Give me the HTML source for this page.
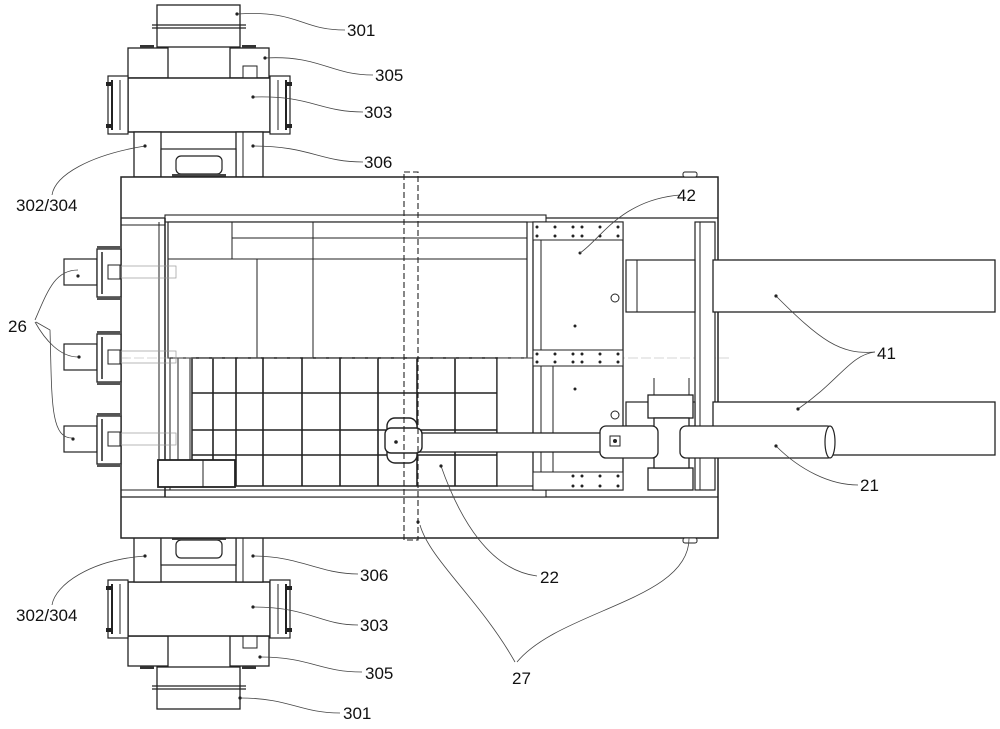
<!DOCTYPE html>
<html><head><meta charset="utf-8"><style>
html,body{margin:0;padding:0;background:#fff;}
svg{display:block;}
text{font-family:"Liberation Sans",sans-serif;font-size:17px;fill:#111;}
</style></head><body>
<svg width="1000" height="729" viewBox="0 0 1000 729" xmlns="http://www.w3.org/2000/svg">
<defs>
<g id="motor">
  <!-- 301 -->
  <rect x="157" y="5" width="83" height="42" fill="#fff" stroke="#222" stroke-width="1.3"/>
  <line x1="152" y1="25" x2="246" y2="25" stroke="#222" stroke-width="1.2"/>
  <line x1="152" y1="28" x2="246" y2="28" stroke="#222" stroke-width="1.2"/>
  <!-- 305 -->
  <rect x="128" y="48" width="40" height="30" fill="#fff" stroke="#222" stroke-width="1.3"/>
  <rect x="230" y="48" width="39" height="30" fill="#fff" stroke="#222" stroke-width="1.3"/>
  <rect x="243" y="66" width="14" height="12" fill="#fff" stroke="#222" stroke-width="1"/>
  <rect x="140" y="45" width="14" height="3" fill="#333"/>
  <rect x="242" y="45" width="14" height="3" fill="#333"/>
  <!-- 303 -->
  <rect x="128" y="78" width="142" height="54" fill="#fff" stroke="#222" stroke-width="1.5"/>
  <rect x="108" y="76" width="20" height="58" fill="#fff" stroke="#222" stroke-width="1.2"/>
  <rect x="270" y="76" width="20" height="58" fill="#fff" stroke="#222" stroke-width="1.2"/>
  <line x1="112" y1="80" x2="112" y2="130" stroke="#222" stroke-width="2"/>
  <line x1="286" y1="80" x2="286" y2="130" stroke="#222" stroke-width="2"/>
  <line x1="120" y1="80" x2="120" y2="130" stroke="#222"/>
  <line x1="278" y1="80" x2="278" y2="130" stroke="#222"/>
  <rect x="106" y="82" width="6" height="4" fill="#222"/><rect x="106" y="124" width="6" height="4" fill="#222"/>
  <rect x="286" y="82" width="6" height="4" fill="#222"/><rect x="286" y="124" width="6" height="4" fill="#222"/>
  <!-- posts -->
  <rect x="134" y="132" width="27" height="45" fill="#fff" stroke="#222" stroke-width="1.3"/>
  <rect x="236" y="132" width="27" height="45" fill="#fff" stroke="#222" stroke-width="1.3"/>
  <line x1="243" y1="132" x2="243" y2="177" stroke="#222"/>
  <rect x="161" y="149" width="75" height="28" fill="#fff" stroke="#222" stroke-width="1.2"/>
  <rect x="176" y="156" width="46" height="18" rx="5" fill="#fff" stroke="#222" stroke-width="1.2"/>
  <rect x="172" y="174" width="54" height="3" fill="#444"/>
</g>
<g id="bolt26">
  <rect x="64" y="-13" width="33" height="26" fill="#fff" stroke="#222" stroke-width="1.2"/>
  <rect x="97" y="-23" width="24" height="48" fill="#fff" stroke="#222" stroke-width="1.3"/>
  <rect x="97" y="-26" width="24" height="3" fill="#555"/>
  <rect x="97" y="25" width="24" height="3" fill="#555"/>
  <line x1="102" y1="-20" x2="102" y2="22" stroke="#222" stroke-width="1.5"/>
  <rect x="108" y="-7" width="12" height="14" fill="#fff" stroke="#222"/>
  <rect x="121" y="-6" width="55" height="12" fill="none" stroke="#999" stroke-width="0.7"/>
</g>
</defs>

<use href="#motor"/>
<use href="#motor" transform="translate(0,714) scale(1,-1)"/>

<!-- main frame -->
<rect x="121" y="177" width="597" height="361" fill="#fff" stroke="#222" stroke-width="1.5"/>
<line x1="121" y1="218" x2="718" y2="218" stroke="#222" stroke-width="1.3"/>
<line x1="121" y1="497" x2="718" y2="497" stroke="#222" stroke-width="1.3"/>
<rect x="165" y="215" width="381" height="7" fill="#fff" stroke="#222" stroke-width="1.1"/>
<rect x="165" y="490" width="381" height="7" fill="#fff" stroke="#222" stroke-width="1.1"/>
<line x1="165" y1="218" x2="165" y2="497" stroke="#222" stroke-width="1.5"/>
<line x1="159" y1="222" x2="159" y2="460" stroke="#222"/>
<line x1="170" y1="222" x2="170" y2="490" stroke="#222"/>
<line x1="121" y1="225" x2="165" y2="225" stroke="#222"/>
<line x1="121" y1="490" x2="165" y2="490" stroke="#222"/>
<rect x="683" y="172" width="14" height="5" rx="2" fill="#fff" stroke="#222"/>
<rect x="683" y="538" width="14" height="5" rx="2" fill="#fff" stroke="#222"/>

<!-- upper region -->
<rect x="168" y="222" width="359" height="136" fill="#fff" stroke="#222" stroke-width="1.2"/>
<line x1="232" y1="222" x2="232" y2="259" stroke="#222"/>
<line x1="232" y1="238" x2="527" y2="238" stroke="#222"/>
<line x1="168" y1="259" x2="527" y2="259" stroke="#222"/>
<line x1="313" y1="222" x2="313" y2="358" stroke="#222"/>
<line x1="257" y1="259" x2="257" y2="358" stroke="#222"/>

<!-- grid -->
<rect x="192" y="358" width="305" height="128" fill="#fff" stroke="#222" stroke-width="1.5"/>
<g stroke="#222" stroke-width="1.6">
<line x1="213" y1="358" x2="213" y2="486"/><line x1="236" y1="358" x2="236" y2="486"/>
<line x1="263" y1="358" x2="263" y2="486"/><line x1="302" y1="358" x2="302" y2="486"/>
<line x1="340" y1="358" x2="340" y2="486"/><line x1="378" y1="358" x2="378" y2="486"/>
<line x1="417" y1="358" x2="417" y2="486"/><line x1="455" y1="358" x2="455" y2="486"/>
<line x1="192" y1="393" x2="497" y2="393"/><line x1="192" y1="430" x2="497" y2="430"/>
<line x1="192" y1="455" x2="497" y2="455"/>
</g>
<rect x="497" y="358" width="38" height="128" fill="#fff" stroke="#222" stroke-width="1.2"/>
<line x1="178" y1="358" x2="178" y2="460" stroke="#222"/>
<line x1="190" y1="358" x2="190" y2="460" stroke="#222"/>
<rect x="158" y="460" width="77" height="27" fill="#fff" stroke="#222" stroke-width="1.8"/>
<line x1="203" y1="460" x2="203" y2="487" stroke="#222"/>
<line x1="121" y1="358" x2="730" y2="358" stroke="#aaa" stroke-width="0.6" stroke-dasharray="10 3"/>

<!-- bolts 26 -->
<use href="#bolt26" transform="translate(0,272)"/>
<use href="#bolt26" transform="translate(0,357)"/>
<use href="#bolt26" transform="translate(0,439)"/>

<!-- plate 42 -->
<rect x="533" y="222" width="90" height="268" fill="#fff" stroke="#222" stroke-width="1.3"/>
<line x1="541" y1="240" x2="541" y2="490" stroke="#222"/>
<line x1="553" y1="366" x2="553" y2="472" stroke="#222"/>
<g fill="#fff" stroke="#222"><rect x="533" y="222" width="90" height="18"/><rect x="533" y="350" width="90" height="16"/><rect x="533" y="472" width="90" height="18"/></g>
<g fill="#222">
<circle cx="537" cy="227" r="1.5"/><circle cx="555" cy="227" r="1.5"/><circle cx="573" cy="227" r="1.5"/><circle cx="582" cy="227" r="1.5"/><circle cx="600" cy="227" r="1.5"/><circle cx="618" cy="227" r="1.5"/>
<circle cx="537" cy="236" r="1.5"/><circle cx="555" cy="236" r="1.5"/><circle cx="573" cy="236" r="1.5"/><circle cx="582" cy="236" r="1.5"/><circle cx="600" cy="236" r="1.5"/><circle cx="618" cy="236" r="1.5"/>
<circle cx="537" cy="354" r="1.5"/><circle cx="555" cy="354" r="1.5"/><circle cx="573" cy="354" r="1.5"/><circle cx="582" cy="354" r="1.5"/><circle cx="600" cy="354" r="1.5"/><circle cx="618" cy="354" r="1.5"/>
<circle cx="537" cy="362" r="1.5"/><circle cx="555" cy="362" r="1.5"/><circle cx="573" cy="362" r="1.5"/><circle cx="582" cy="362" r="1.5"/><circle cx="600" cy="362" r="1.5"/><circle cx="618" cy="362" r="1.5"/>
<circle cx="573" cy="476" r="1.5"/><circle cx="582" cy="476" r="1.5"/><circle cx="600" cy="476" r="1.5"/><circle cx="618" cy="476" r="1.5"/>
<circle cx="573" cy="486" r="1.5"/><circle cx="582" cy="486" r="1.5"/><circle cx="600" cy="486" r="1.5"/><circle cx="618" cy="486" r="1.5"/>
<circle cx="580" cy="253" r="1.5"/><circle cx="575" cy="326" r="1.5"/><circle cx="575" cy="389" r="1.5"/>
</g>
<circle cx="615" cy="298" r="4" fill="#fff" stroke="#222"/>
<circle cx="615" cy="415" r="4" fill="#fff" stroke="#222"/>

<!-- right columns -->
<rect x="695" y="222" width="20" height="268" fill="#fff" stroke="#222" stroke-width="1.2"/>
<line x1="700" y1="222" x2="700" y2="490" stroke="#222"/>

<!-- rods 41 -->
<rect x="626" y="260" width="69" height="52" fill="#fff" stroke="#222" stroke-width="1.2"/>
<line x1="637" y1="260" x2="637" y2="312" stroke="#222"/>
<rect x="713" y="260" width="282" height="52" fill="#fff" stroke="#222" stroke-width="1.3"/>
<rect x="626" y="402" width="69" height="24" fill="#fff" stroke="#222" stroke-width="1.2"/>
<rect x="713" y="402" width="282" height="53" fill="#fff" stroke="#222" stroke-width="1.3"/>

<!-- clamp -->
<rect x="648" y="395" width="45" height="23" fill="#fff" stroke="#222" stroke-width="1.3"/>
<rect x="648" y="468" width="45" height="22" fill="#fff" stroke="#222" stroke-width="1.3"/>
<line x1="654" y1="378" x2="654" y2="395" stroke="#222"/><line x1="689" y1="378" x2="689" y2="395" stroke="#222"/>
<rect x="654" y="418" width="35" height="50" fill="#fff" stroke="#222" stroke-width="1.3"/>

<!-- rod 22 & cylinder 21 -->
<rect x="405" y="433" width="200" height="19" fill="#fff" stroke="#222" stroke-width="1.3"/>
<rect x="600" y="426" width="58" height="32" rx="6" fill="#fff" stroke="#222" stroke-width="1.3"/>
<rect x="610" y="436" width="10" height="10" fill="#fff" stroke="#222"/>
<circle cx="615" cy="441" r="2" fill="#222"/>
<rect x="680" y="426" width="153" height="32" rx="6" fill="#fff" stroke="#222" stroke-width="1.3"/>
<ellipse cx="830" cy="442" rx="5" ry="16" fill="#fff" stroke="#222" stroke-width="1.2"/>
<!-- rod end fitting -->
<rect x="387" y="418" width="30" height="45" rx="8" fill="#fff" stroke="#222" stroke-width="1.4"/>
<rect x="385" y="428" width="37" height="25" rx="6" fill="#fff" stroke="#222" stroke-width="1.4"/>
<circle cx="396" cy="442" r="1.8" fill="#222"/>

<!-- dashed pin 27 -->
<rect x="404" y="172" width="14" height="368" fill="none" stroke="#222" stroke-width="1.1" stroke-dasharray="6 3"/>

<!-- leader lines -->
<g fill="none" stroke="#444" stroke-width="0.8">
<path d="M237,14 C300,10 300,30 345,30"/>
<path d="M265,58 C320,55 330,75 373,75"/>
<path d="M253,97 C310,95 320,112 363,112"/>
<path d="M253,146 C310,146 320,162 363,162"/>
<path d="M145,146 C90,155 55,175 52,195"/>
<path d="M78,270 C55,270 48,290 35,320"/>
<path d="M78,357 C60,357 45,340 35,322"/>
<path d="M72,438 C50,438 52,400 50,330 L36,322"/>
<path d="M580,253 C600,240 620,200 680,195"/>
<path d="M776,296 C820,340 840,355 875,352"/>
<path d="M798,409 C840,380 850,355 875,352"/>
<path d="M776,446 C800,470 830,485 858,485"/>
<path d="M441,466 C460,520 490,570 537,576"/>
<path d="M420,525 C430,560 480,600 515,662"/>
<path d="M689,538 C690,600 560,610 517,662"/>
<path d="M253,556 C300,556 320,574 358,574"/>
<path d="M145,556 C90,560 55,585 52,605"/>
<path d="M253,607 C310,607 320,625 358,625"/>
<path d="M260,657 C310,657 320,672 362,672"/>
<path d="M240,698 C290,698 300,713 340,713"/>
</g>
<g fill="#222">
<circle cx="237" cy="14" r="1.6"/><circle cx="265" cy="58" r="1.6"/><circle cx="253" cy="97" r="1.6"/><circle cx="253" cy="146" r="1.6"/><circle cx="145" cy="146" r="1.6"/>
<circle cx="78" cy="276" r="1.6"/><circle cx="79" cy="357" r="1.6"/><circle cx="73" cy="439" r="1.6"/>
<circle cx="776" cy="296" r="1.6"/><circle cx="798" cy="409" r="1.6"/><circle cx="776" cy="446" r="1.6"/><circle cx="441" cy="466" r="1.6"/><circle cx="418" cy="522" r="1.6"/>
<circle cx="253" cy="556" r="1.6"/><circle cx="145" cy="556" r="1.6"/><circle cx="253" cy="607" r="1.6"/><circle cx="260" cy="657" r="1.6"/><circle cx="240" cy="698" r="1.6"/>
</g>

<text x="347" y="36">301</text>
<text x="375" y="81">305</text>
<text x="364" y="118">303</text>
<text x="364" y="168">306</text>
<text x="16" y="211">302/304</text>
<text x="8" y="332">26</text>
<text x="677" y="201">42</text>
<text x="877" y="359">41</text>
<text x="860" y="491">21</text>
<text x="540" y="583">22</text>
<text x="512" y="684">27</text>
<text x="360" y="581">306</text>
<text x="16" y="621">302/304</text>
<text x="360" y="631">303</text>
<text x="365" y="679">305</text>
<text x="343" y="719">301</text>
</svg>
</body></html>
